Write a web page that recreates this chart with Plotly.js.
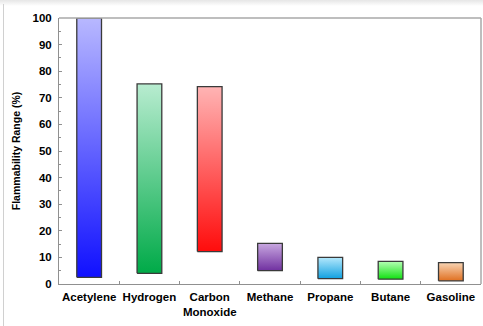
<!DOCTYPE html>
<html><head><meta charset="utf-8">
<script src="https://cdn.plot.ly/plotly-3.0.1.min.js"></script>
<style>
html,body{margin:0;padding:0;background:#fff;}
#wrap{position:relative;width:483px;height:326px;overflow:hidden;}
#shadow{position:absolute;left:0;top:0;width:483px;height:6px;background:linear-gradient(#e6e6e6,#ffffff);}
#lframe{position:absolute;left:3px;top:4px;width:1px;height:322px;background:#d0d0d0;}
#chart{position:absolute;left:0;top:0;width:483px;height:326px;}
</style></head>
<body><div id="wrap"><div id="chart"></div><div id="shadow"></div><div id="lframe"></div></div>
<script>
const categories = ["Acetylene", "Hydrogen", "Carbon<br>Monoxide", "Methane", "Propane", "Butane", "Gasoline"];
const lowerLimit = [2.5, 4.0, 12.2, 5.0, 2.0, 1.8, 1.2];
const upperLimit = [100, 75.2, 74.2, 15.3, 10.0, 8.5, 8.0];
const topColors = ["#b8b8ff", "#b8ecd0", "#ffb4b4", "#c8a8e0", "#b4e8fc", "#b4ffb4", "#f8d4b4"];
const bottomColors = ["#1010ff", "#00aa48", "#ff0c0c", "#7030a0", "#10a0e0", "#10e010", "#e07020"];
const yTicks = [0, 10, 20, 30, 40, 50, 60, 70, 80, 90, 100];

const halfW = 0.205;
const traces = categories.map((c, i) => ({
  type: "scatter",
  mode: "lines",
  x: [i - halfW, i + halfW, i + halfW, i - halfW, i - halfW],
  y: [lowerLimit[i], lowerLimit[i], upperLimit[i], upperLimit[i], lowerLimit[i]],
  fill: "toself",
  fillgradient: {type: "vertical", start: lowerLimit[i], stop: upperLimit[i],
    colorscale: [[0, bottomColors[i]], [1, topColors[i]]]},
  line: {color: "#3a3a3a", width: 1.3},
  hoverinfo: "skip",
  showlegend: false
}));

const layout = {
  width: 483, height: 326,
  margin: {l: 59, r: 2, t: 18, b: 42},
  paper_bgcolor: "rgba(0,0,0,0)", plot_bgcolor: "#fff",
  font: {family: "Liberation Sans, Arial, sans-serif", color: "#000"},
  showlegend: false,
  xaxis: {
    range: [-0.5, 6.5], tickmode: "array",
    tickvals: categories.map((c, i) => i), ticktext: categories,
    ticks: "", showgrid: false, zeroline: false,
    showline: true, linecolor: "#909090", linewidth: 1, mirror: false,
    ticklabelstandoff: 2,
    tickfont: {size: 11.5, family: "Liberation Sans, Arial, sans-serif", weight: "bold"},
    minor: {tickvals: [0.5, 1.5, 2.5, 3.5, 4.5, 5.5], ticks: "inside", ticklen: 3, tickcolor: "#909090"},
    fixedrange: true
  },
  yaxis: {
    range: [0, 100], tickmode: "array", tickvals: yTicks,
    ticks: "inside", ticklen: 3, tickcolor: "#909090",
    showgrid: false, zeroline: false,
    showline: true, linecolor: "#909090", linewidth: 1,
    ticklabelstandoff: 4,
    tickfont: {size: 11.5, family: "Liberation Sans, Arial, sans-serif", weight: "bold"},
    minor: {tickvals: [5, 15, 25, 35, 45, 55, 65, 75, 85, 95], ticks: "inside", ticklen: 2, tickcolor: "#909090"},
    title: {text: "Flammability Range (%)", standoff: 9,
      font: {size: 10.5, family: "Liberation Sans, Arial, sans-serif", weight: "bold"}},
    fixedrange: true
  },
  shapes: [
    {type: "line", xref: "paper", yref: "paper", x0: 0, x1: 1, y0: 1, y1: 1, line: {color: "#a8a8a8", width: 1.5}},
    {type: "line", xref: "paper", yref: "paper", x0: 1, x1: 1, y0: 0, y1: 1, line: {color: "#a8a8a8", width: 1.5}}
  ]
};

Plotly.newPlot("chart", traces, layout, {displayModeBar: false, staticPlot: true});
</script></body></html>
